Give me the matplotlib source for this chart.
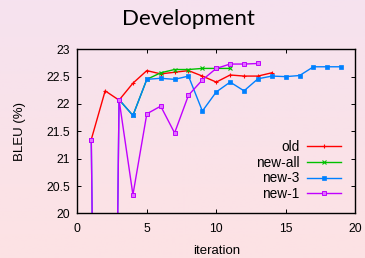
import matplotlib
matplotlib.use("Agg")
import matplotlib.pyplot as plt
import numpy as np
from matplotlib.colors import LinearSegmentedColormap

title = "Development"
xlabel = "iteration"
ylabel = "BLEU (%)"

old_x = [1, 2, 3, 4, 5, 6, 7, 8, 9, 10, 11, 12, 13, 14]
old_y = [21.35, 22.24, 22.07, 22.38, 22.61, 22.55, 22.58, 22.61, 22.51, 22.40, 22.53, 22.51, 22.51, 22.57]

newall_x = [3, 4, 5, 6, 7, 8, 9, 10, 11]
newall_y = [22.08, 21.79, 22.45, 22.57, 22.63, 22.63, 22.65, 22.65, 22.65]

new3_x = [1, 2, 3, 4, 5, 6, 7, 8, 9, 10, 11, 12, 13, 14, 15, 16, 17, 18, 19]
new3_y = [21.35, 0.0, 22.08, 21.79, 22.45, 22.47, 22.45, 22.51, 21.87, 22.22, 22.40, 22.24, 22.46, 22.51, 22.50, 22.52, 22.68, 22.68, 22.68]

new1_x = [1, 2, 3, 4, 5, 6, 7, 8, 9, 10, 11, 12, 13]
new1_y = [21.35, 0.0, 22.08, 20.34, 21.82, 21.96, 21.47, 22.16, 22.44, 22.65, 22.73, 22.73, 22.74]

xticks = [0, 5, 10, 15, 20]
yticks = [20, 20.5, 21, 21.5, 22, 22.5, 23]
ytick_labels = ["20", "20.5", "21", "21.5", "22", "22.5", "23"]

plt.rcParams['font.family'] = ['Liberation Sans', 'DejaVu Sans']

fig = plt.figure(figsize=(3.65, 2.58), dpi=100)
# background gradient
bg = fig.add_axes([0, 0, 1, 1])
cmap = LinearSegmentedColormap.from_list("bg", ["#f6e2ef", "#fde2e4"])
grad = np.linspace(0, 1, 256).reshape(-1, 1)
bg.imshow(grad, aspect='auto', cmap=cmap, extent=[0, 1, 0, 1], origin='upper')
bg.axis('off')
bg.set_zorder(-10)

ax = fig.add_axes([0.212, 0.173, 0.761, 0.636])
ax.patch.set_alpha(0)

ax.plot(old_x, old_y, color='#ff0000', lw=1.0, marker='+', ms=3.5, mew=0.8, label='old')
ax.plot(newall_x, newall_y, color='#00c000', lw=1.0, marker='x', ms=3, mew=0.8, label='new-all')
ax.plot(new3_x, new3_y, color='#0080ff', lw=1.0, marker='s', ms=2.6, mew=0.5, label='new-3')
ax.plot(new1_x, new1_y, color='#c000ff', lw=1.0, marker='s', ms=3.2, mew=0.7,
        markerfacecolor='#e070ff', label='new-1')

ax.set_xlim(0, 20)
ax.set_ylim(20, 23)
ax.set_xticks(xticks)
ax.set_yticks(yticks)
ax.set_yticklabels(ytick_labels)
ax.tick_params(direction='in', top=True, right=True, labelsize=8.7, length=3, width=0.7)
ax.tick_params(axis='y', pad=5)
ax.tick_params(axis='x', pad=7)
for s in ax.spines.values():
    s.set_linewidth(1.0)

ax.set_xlabel(xlabel, fontsize=9.5, labelpad=7)
ax.set_ylabel(ylabel, fontsize=9.5, labelpad=15)
fig.text(0.515, 0.928, title, ha='center', va='center', fontsize=16,
         family=['Lato', 'DejaVu Sans'])

leg = ax.legend(loc='lower right', bbox_to_anchor=(0.948, 0.075), frameon=False, fontsize=9.8,
                markerfirst=False, handlelength=2.45, labelspacing=0.13, borderaxespad=0,
                borderpad=0, handletextpad=0.6)
for t in leg.get_texts():
    t.set_ha('right')

fig.savefig("out.png", dpi=100)
